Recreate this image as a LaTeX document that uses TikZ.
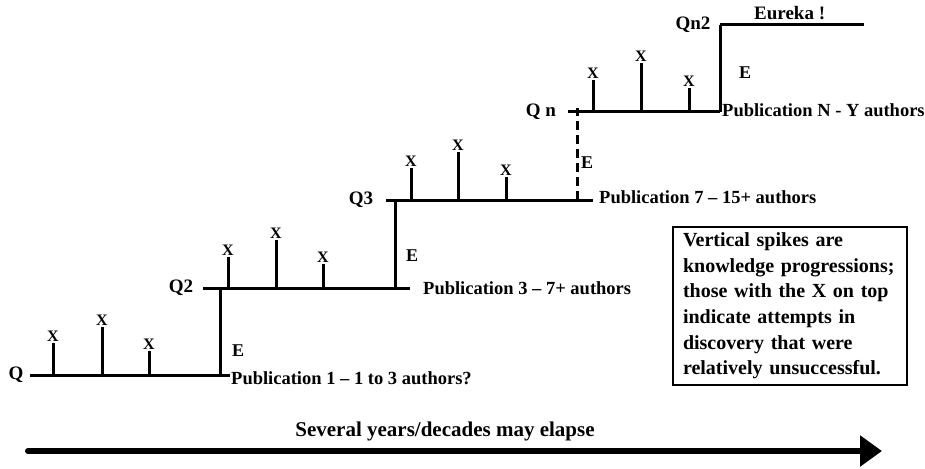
\documentclass[tikz,border=0pt]{standalone}
\usepackage{fontspec}
\setmainfont{Liberation Serif}
\usetikzlibrary{arrows.meta}
\begin{document}
\begin{tikzpicture}[x=1pt,y=-1pt,
  stair/.style={line width=3pt},
  spike/.style={line width=3pt},
  xmark/.style={font=\bfseries\fontsize{16}{16}\selectfont, inner sep=0pt, anchor=south, yshift=1.5pt},
  qlab/.style={font=\bfseries\fontsize{19}{19}\selectfont, inner sep=0pt},
  elab/.style={font=\bfseries\fontsize{18}{18}\selectfont, inner sep=0pt},
  pub/.style={font=\bfseries\fontsize{18.5}{19}\selectfont, inner sep=0pt, anchor=west},
  note/.style={draw, line width=2pt, inner xsep=10pt, inner ysep=0pt, font=\bfseries\fontsize{20}{25.6}\selectfont, align=left, text width=214pt, minimum width=234pt, minimum height=158pt},
  timearrow/.style={line width=6pt, line cap=round, -{Triangle[length=22pt,width=30pt]}}]
\useasboundingbox (0,0) rectangle (925,468);

% ---- step levels ----
\coordinate (l1a) at (30,375);  \coordinate (l1b) at (230,375);
\coordinate (l2a) at (203,288); \coordinate (l2b) at (410,288);
\coordinate (l3a) at (386,200); \coordinate (l3b) at (593,200);
\coordinate (l4a) at (568,112); \coordinate (l4b) at (720,112);
\coordinate (l5a) at (720,25);  \coordinate (l5b) at (864,25);
\draw[stair] (l1a) -- (l1b);
\draw[stair] (l2a) -- (l2b);
\draw[stair] (l3a) -- (l3b);
\draw[stair] (l4a) -- (l4b);
\draw[stair] (l5a) -- (l5b);

% ---- risers ----
\coordinate (r1b) at (220,375); \coordinate (r1t) at (220,288);
\coordinate (r2b) at (395,288); \coordinate (r2t) at (395,200);
\coordinate (r3b) at (577,200); \coordinate (r3t) at (577,108);
\coordinate (r4b) at (720,112); \coordinate (r4t) at (720,25);
\draw[stair] (r1b) -- (r1t);
\draw[stair] (r2b) -- (r2t);
\draw[stair, dash pattern=on 9pt off 5pt] (r3b) -- (r3t);
\draw[stair] (r4b) -- (r4t);

% ---- level labels ----
\node[qlab] (q1) at (16,375) {Q};
\node[qlab] (q2) at (181,288) {Q2};
\node[qlab] (q3) at (361,200) {Q3};
\node[qlab] (qn) at (541,112) {Q n};
\node[qlab] (qn2) at (693,25) {Qn2};
\node[qlab, anchor=west] (eureka) at (754,13) {Eureka !};

\node[elab] (e1) at (238,351) {E};
\node[elab] (e2) at (412,256) {E};
\node[elab] (e3) at (587,163) {E};
\node[elab] (e4) at (745,73) {E};

\node[pub] (p1) at (231,378) {Publication 1 – 1 to 3 authors?};
\node[pub] (p2) at (423,288) {Publication 3 – 7+ authors};
\node[pub] (p3) at (599,197) {Publication 7 – 15+ authors};
\node[pub] (p4) at (722,110) {Publication N - Y authors};

% ---- knowledge spikes ----
\foreach \n/\x/\y/\t in {a/53/375/343, b/102/375/327, c/149/375/351,
                          d/228/288/257, e/276/288/240, f/323/288/264,
                          g/411/200/168, h/458/200/152, i/506/200/177,
                          j/593/112/80,  k/641/112/63,  l/689/112/88}{
  \coordinate (s\n) at (\x,\y);
  \node[xmark] (x\n) at (\x,\t) {X};
  \draw[spike] (s\n) -- (\x,\t);
}

% ---- explanation box ----
\node[note, anchor=north west] (box) at (672,226) {\hyphenpenalty=10000 Vertical spikes are\\ knowledge progressions;\\ those with the X on top\\ indicate attempts in\\ discovery that were\\ relatively unsuccessful.};

% ---- time arrow ----
\coordinate (ta) at (28,451);
\coordinate (tb) at (882,451);
\draw[timearrow] (ta) -- (tb);
\node[font=\bfseries\fontsize{21}{21}\selectfont, inner sep=0pt] (elapse) at (445,431) {Several years/decades may elapse};
\end{tikzpicture}
\end{document}
